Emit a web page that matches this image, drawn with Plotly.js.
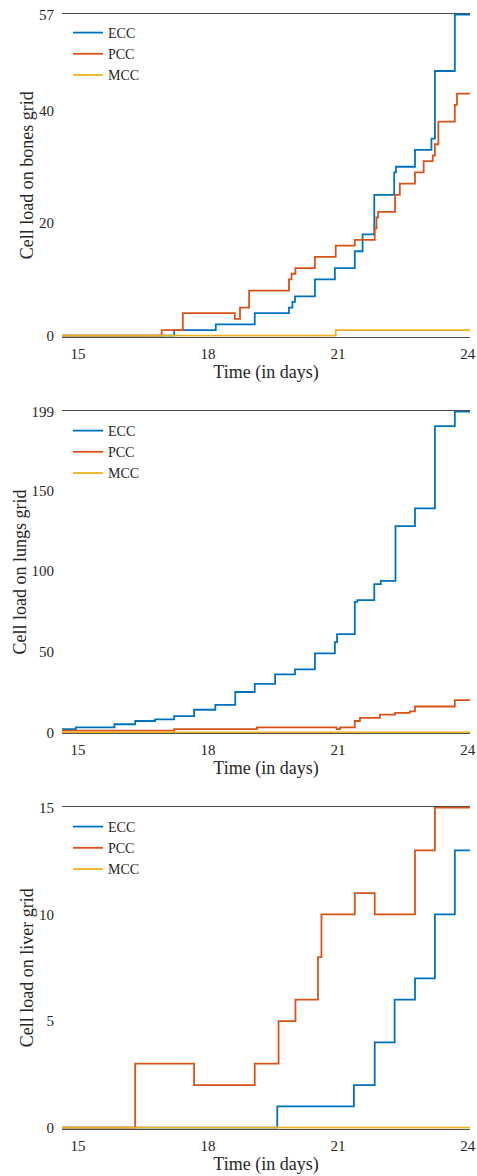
<!DOCTYPE html>
<html>
<head>
<meta charset="utf-8">
<script src="https://cdn.plot.ly/plotly-3.0.1.min.js"></script>
<style>
html,body{margin:0;padding:0;background:#fff;}
#chart{width:477px;height:1176px;}
</style>
</head>
<body>
<div id="chart"></div>
<script>
// ---------- data ----------
const seriesNames = ["ECC", "PCC", "MCC"];
const xTickVals = [15, 18, 21, 24];

// Bones
const eccBonesT = [14.63, 17.22, 18.18, 19.08, 19.87, 19.95, 20.01, 20.47, 20.93, 21.39, 21.57, 21.84, 22.30, 22.34, 22.78, 23.16, 23.24, 23.70, 24.05];
const eccBonesV = [0, 1, 2, 4, 5, 6, 7, 10, 12, 15, 18, 25, 29, 30, 33, 35, 47, 57, 57];
const pccBonesT = [14.63, 16.93, 17.42, 18.62, 18.74, 18.95, 19.87, 19.93, 20.02, 20.47, 20.95, 21.39, 21.85, 21.89, 21.93, 22.32, 22.43, 22.78, 22.98, 23.19, 23.24, 23.32, 23.70, 23.75, 24.05];
const pccBonesV = [0, 1, 4, 3, 5, 8, 10, 11, 12, 14, 16, 17, 19, 21, 22, 25, 27, 29, 31, 32, 34, 38, 41, 43, 43];
const mccBonesT = [14.63, 20.95, 24.05];
const mccBonesV = [0, 1, 1];
const bonesTicks = [0, 20, 40, 57];

// Lungs
const eccLungsT = [14.63, 14.95, 15.84, 16.32, 16.78, 17.22, 17.68, 18.17, 18.63, 19.08, 19.55, 20.01, 20.47, 20.93, 20.98, 21.39, 21.45, 21.84, 21.99, 22.33, 22.78, 23.24, 23.70, 24.05];
const eccLungsV = [2, 3, 5, 7, 8, 10, 14, 17, 25, 30, 36, 39, 49, 56, 61, 81, 82, 92, 94, 128, 139, 190, 199, 199];
const pccLungsT = [14.63, 17.22, 19.13, 20.97, 21.05, 21.39, 21.51, 21.97, 22.32, 22.66, 22.78, 23.70, 24.05];
const pccLungsV = [1, 2, 3, 2, 3, 7, 9, 11, 12, 13, 16, 20, 20];
const mccLungsT = [14.63, 24.05];
const mccLungsV = [0, 0];
const lungsTicks = [0, 50, 100, 150, 199];

// Liver
const eccLiverT = [14.63, 19.60, 21.37, 21.85, 22.31, 22.78, 23.24, 23.70, 24.05];
const eccLiverV = [0, 1, 2, 4, 6, 7, 10, 13, 13];
const pccLiverT = [14.63, 16.32, 17.68, 19.08, 19.63, 20.02, 20.54, 20.62, 21.39, 21.85, 22.78, 23.24, 24.05];
const pccLiverV = [0, 3, 2, 3, 5, 6, 8, 10, 11, 10, 13, 15, 15];
const mccLiverT = [14.63, 24.05];
const mccLiverV = [0, 0];
const liverTicks = [0, 5, 10, 15];

// ---------- styling ----------
const colors = ["#0072BD", "#D95319", "#EDB120"];
const FONT = '"Liberation Serif", "Times New Roman", serif';
const TXT = "#262626";

function mk(t, v, i, ax, leg) {
  return {
    x: t, y: v, type: "scatter", mode: "lines",
    line: {color: colors[i], width: 1.8, shape: "hv"},
    name: seriesNames[i], xaxis: ax.x, yaxis: ax.y, legend: leg,
    hoverinfo: "skip"
  };
}
const a1 = {x: "x", y: "y"}, a2 = {x: "x2", y: "y2"}, a3 = {x: "x3", y: "y3"};
const data = [
  mk(eccBonesT, eccBonesV, 0, a1, "legend"),
  mk(pccBonesT, pccBonesV, 1, a1, "legend"),
  mk(mccBonesT, mccBonesV, 2, a1, "legend"),
  mk(eccLungsT, eccLungsV, 0, a2, "legend2"),
  mk(pccLungsT, pccLungsV, 1, a2, "legend2"),
  mk(mccLungsT, mccLungsV, 2, a2, "legend2"),
  mk(eccLiverT, eccLiverV, 0, a3, "legend3"),
  mk(pccLiverT, pccLiverV, 1, a3, "legend3"),
  mk(mccLiverT, mccLiverV, 2, a3, "legend3")
];

const H = 1176, W = 477;
const xdom = [62 / W, 470 / W];
// pad = 1px around the data range so lines on the box edges are not clipped
function ydom(top, bottom) { return [1 - (bottom + 1) / H, 1 - (top - 1) / H]; }
function yrng(maxV, top, bottom) {
  const u = maxV / (bottom - top);
  return [-u, maxV + u];
}

function xax(anchor) {
  return {
    domain: xdom, anchor: anchor, range: [14.63, 24.05],
    tickvals: xTickVals, ticktext: xTickVals.map(String),
    showline: true, mirror: true, linecolor: "#4d4d4d", linewidth: 1,
    showgrid: false, zeroline: false,
    ticks: "outside", ticklen: 3, tickcolor: "rgba(0,0,0,0)",
    tickfont: {family: FONT, size: 15, color: TXT},
    title: {text: "Time (in days)", font: {family: FONT, size: 18, color: TXT}, standoff: 2},
    layer: "below traces", fixedrange: true
  };
}
function yax(anchor, top, bottom, maxV, ticks, title) {
  return {
    domain: ydom(top, bottom), anchor: anchor, range: yrng(maxV, top, bottom),
    tickvals: ticks, ticktext: ticks.map(String),
    showline: false, showgrid: false, zeroline: false,
    ticks: "outside", ticklen: 4, tickcolor: "rgba(0,0,0,0)",
    tickfont: {family: FONT, size: 15, color: TXT},
    title: {text: title, font: {family: FONT, size: 18, color: TXT}, standoff: 0},
    layer: "below traces", fixedrange: true
  };
}
function leg(topPx) {
  return {
    x: 68 / W, xanchor: "left", y: 1 - topPx / H, yanchor: "top",
    bgcolor: "rgba(0,0,0,0)", borderwidth: 0,
    font: {family: FONT, size: 14, color: TXT},
    tracegroupgap: 0, itemwidth: 30
  };
}

const layout = {
  width: W, height: H,
  margin: {l: 0, r: 0, t: 0, b: 0, pad: 0},
  paper_bgcolor: "#fff", plot_bgcolor: "#fff",
  font: {family: FONT, color: TXT},
  showlegend: true,
  xaxis: xax("y"),
  xaxis2: xax("y2"),
  xaxis3: xax("y3"),
  yaxis: yax("x", 14.7, 335.7, 57, bonesTicks, "Cell load on bones grid"),
  yaxis2: yax("x2", 411.7, 732.3, 199, lungsTicks, "Cell load on lungs grid"),
  yaxis3: yax("x3", 807.7, 1127.7, 15, liverTicks, "Cell load on liver grid"),
  legend: leg(17),
  legend2: leg(415),
  legend3: leg(811)
};

Plotly.newPlot("chart", data, layout, {displayModeBar: false, staticPlot: true});
</script>
</body>
</html>
